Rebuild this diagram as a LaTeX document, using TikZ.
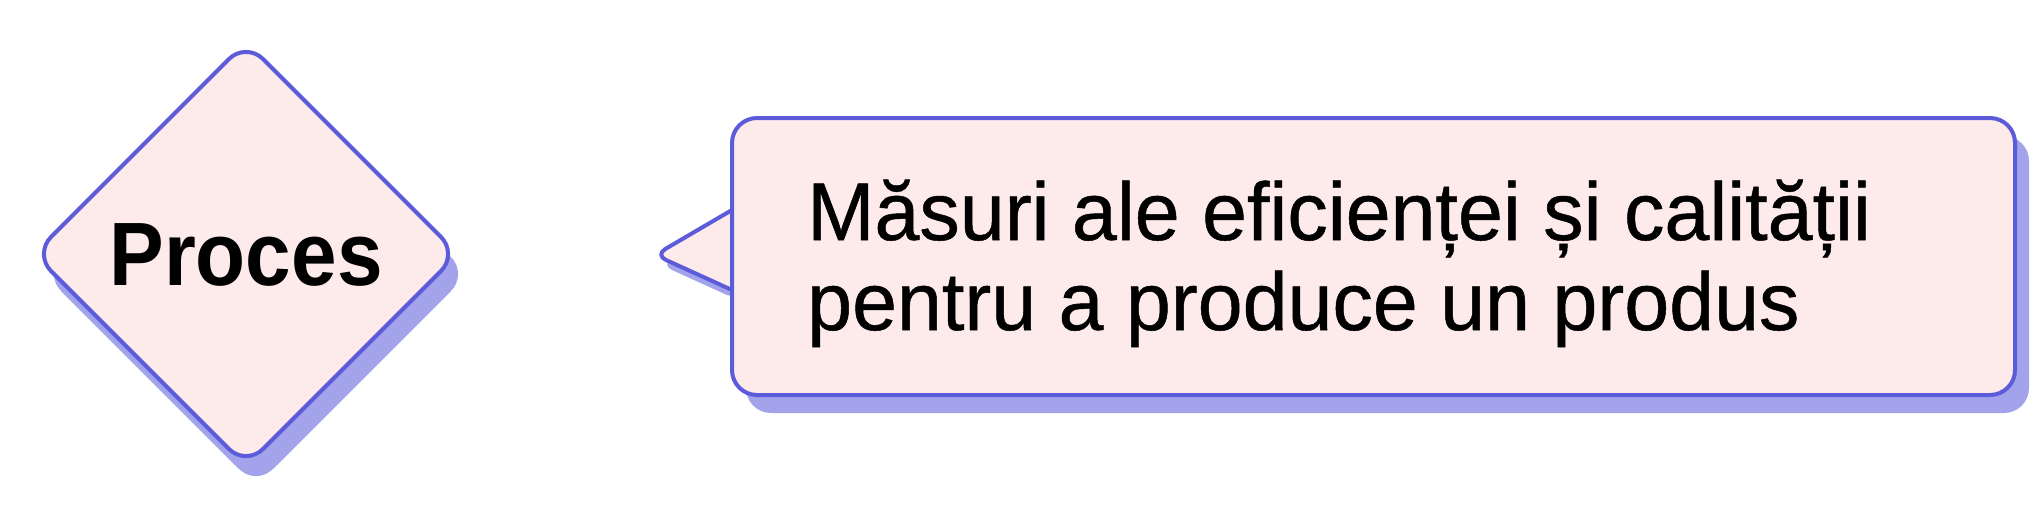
\documentclass[tikz,border=0pt]{standalone}
\usepackage{fontspec}
\setmainfont{Liberation Sans}
\newfontfamily\procfont[FakeStretch=0.91]{Liberation Sans Bold}
\newfontfamily\descfont[FakeStretch=0.985,FakeBold=0.6]{Liberation Sans}
\definecolor{bord}{HTML}{5C5CDB}
\definecolor{pinkfill}{HTML}{FDEAEA}
\definecolor{shad}{HTML}{A3A3EC}
\tikzset{
  shape border/.style={draw=bord, line width=4pt, fill=pinkfill, line join=round},
  shadowfill/.style={fill=shad},
  desctext/.style={inner sep=0pt, anchor=base west, font=\descfont\fontsize{82}{90}\selectfont},
}
\begin{document}
\begin{tikzpicture}[x=1pt,y=-1pt]
\useasboundingbox (0,0) rectangle (2040,512);
\fill[white] (0,0) rectangle (2040,512);
% diamond shadow
\begin{scope}[shift={(10,20)}]
\fill[shadowfill, rounded corners=24pt] (246,42) -- (458,254) -- (246,466) -- (34,254) -- cycle;
\end{scope}
% diamond
\path[shape border, rounded corners=24pt] (246,42) -- (458,254) -- (246,466) -- (34,254) -- cycle;
\node[inner sep=0pt, font=\procfont\fontsize{90}{100}\selectfont] (proc) at (246,255) {Proces};
% callout shadows
\begin{scope}[shift={(6,10)}]
\fill[shadowfill, rounded corners=12pt] (732,210) -- (655,255) -- (732,290) -- cycle;
\end{scope}
\begin{scope}[shift={(14,18)}]
\fill[shadowfill, rounded corners=25pt] (732,118) rectangle (2015,395);
\end{scope}
% pointer
\path[shape border, rounded corners=12pt] (732,210) -- (655,255) -- (732,290);
% box
\node[shape border, rounded corners=25pt, rectangle, minimum width=1283pt, minimum height=277pt, inner sep=0pt] (box) at (1373.5,256.5) {};
\node[desctext] (line1) at (807,240) {Măsuri ale eficienței și calității};
\node[desctext] (line2) at (807,330) {pentru a produce un produs};
\end{tikzpicture}
\end{document}
